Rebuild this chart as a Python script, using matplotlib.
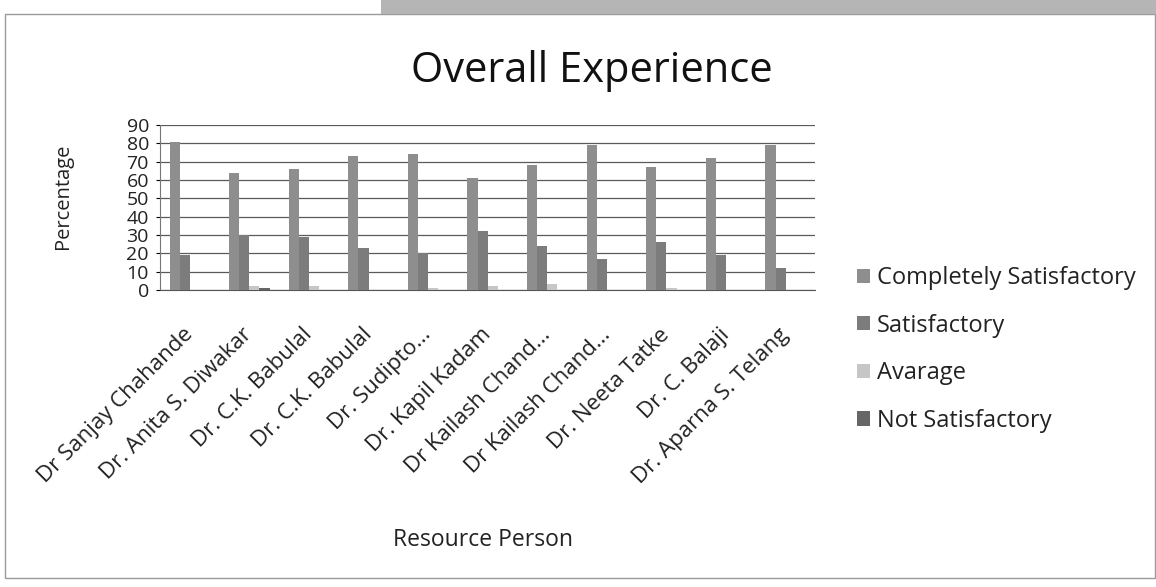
import matplotlib.pyplot as plt
import numpy as np
from matplotlib.patches import Rectangle

plt.rcParams['font.family'] = ['Open Sans', 'DejaVu Sans']

persons = ['Dr Sanjay Chahande', 'Dr. Anita S. Diwakar', 'Dr. C.K. Babulal',
           'Dr. C.K. Babulal', 'Dr. Sudipto...', 'Dr. Kapil Kadam',
           'Dr Kailash Chand...', 'Dr Kailash Chand...', 'Dr. Neeta Tatke',
           'Dr. C. Balaji', 'Dr. Aparna S. Telang']
completely = [81, 64, 66, 73, 74, 61, 68, 79, 67, 72, 79]
satisfactory = [19, 30, 29, 23, 20, 32, 24, 17, 26, 19, 12]
average = [0, 2, 2, 0, 1, 2, 3, 0, 1, 0, 0]
not_satisfactory = [0, 1, 0, 0, 0, 0, 0, 0, 0, 0, 0]

series = [('Completely Satisfactory', completely, '#8e8e8e'),
          ('Satisfactory', satisfactory, '#7c7c7c'),
          ('Avarage', average, '#c6c6c6'),
          ('Not Satisfactory', not_satisfactory, '#666666')]

fig = plt.figure(figsize=(11.56, 5.87), dpi=100)
fig.patch.set_facecolor('white')

# page border and scan strip
fig.patches.append(Rectangle((0.004, 0.015), 0.995, 0.962, transform=fig.transFigure,
                             fill=False, edgecolor='#9a9a9a', lw=1))
fig.patches.append(Rectangle((0.33, 0.977), 0.67, 0.023, transform=fig.transFigure,
                             facecolor='#b5b5b5', edgecolor='none'))

ax = fig.add_axes([0.1384, 0.506, 0.567, 0.281])
x = np.arange(len(persons))
w = 0.17
for i, (name, vals, col) in enumerate(series):
    ax.bar(x + (i - 1.5) * w, vals, w, color=col, label=name, zorder=3)

ax.set_ylim(0, 90)
ax.set_xlim(-0.5, len(persons) - 0.5)
ax.set_yticks(range(0, 91, 10))
ax.yaxis.grid(True, color='#5a5a5a', lw=0.9, zorder=0)
ax.tick_params(axis='y', labelsize=14, length=3, pad=5, labelcolor='#222222')
ax.tick_params(axis='x', length=0, pad=30)
for s in ['top', 'right']:
    ax.spines[s].set_visible(False)
ax.spines['left'].set_color('#777777')
ax.spines['bottom'].set_color('#555555')
ax.set_xticks(x)
ax.set_xticklabels(persons, rotation=45, ha='right', va='center',
                   rotation_mode='anchor', fontsize=16, color='#222222')

ax.set_ylabel('Percentage', fontsize=14.5, color='#222222')
ax.yaxis.set_label_coords(-0.133, 0.57)
fig.text(0.418, 0.07, 'Resource Person', fontsize=16.5, color='#222222', ha='center')
fig.text(0.512, 0.86, 'Overall Experience', fontsize=30, color='#111111', ha='center')

fig.legend(loc='upper left', bbox_to_anchor=(857 / 1156, 1 - 266 / 587),
           frameon=False, borderpad=0, borderaxespad=0,
           fontsize=17, handlelength=0.55, handleheight=0.55, handletextpad=0.3,
           labelspacing=1.0, labelcolor='#222222')

fig.savefig('out.png', dpi=100)
